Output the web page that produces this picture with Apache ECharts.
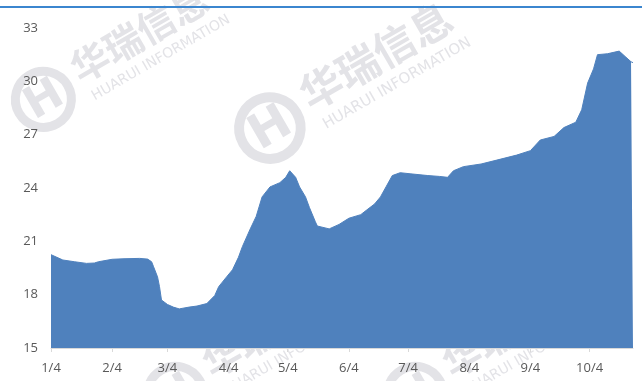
<!DOCTYPE html>
<html>
<head>
<meta charset="utf-8">
<script src="https://cdn.jsdelivr.net/npm/echarts@6/dist/echarts.min.js"></script>
<style>
  html, body { margin: 0; padding: 0; background: #ffffff; }
  #chart { width: 642px; height: 381px; }
</style>
</head>
<body>
<div id="chart"></div>
<script>
// Daily price observations (2018), sampled along the curve
const dates = [
  '2018-01-04','2018-01-07','2018-01-10','2018-01-16','2018-01-22','2018-01-26','2018-01-28',
  '2018-02-04','2018-02-10','2018-02-18','2018-02-22','2018-02-24','2018-02-25','2018-02-27','2018-02-28',
  '2018-03-01','2018-03-04','2018-03-07','2018-03-10','2018-03-15','2018-03-19','2018-03-24','2018-03-28','2018-03-30',
  '2018-04-03','2018-04-06','2018-04-09','2018-04-11','2018-04-15','2018-04-18','2018-04-21','2018-04-25','2018-04-30',
  '2018-05-03','2018-05-05','2018-05-08','2018-05-10','2018-05-13','2018-05-15','2018-05-18','2018-05-19','2018-05-25','2018-05-30',
  '2018-06-04','2018-06-10','2018-06-13','2018-06-17','2018-06-20','2018-06-23','2018-06-26','2018-06-30',
  '2018-07-05','2018-07-14','2018-07-20','2018-07-24','2018-07-27',
  '2018-08-01','2018-08-10','2018-08-18','2018-08-28',
  '2018-09-04','2018-09-09','2018-09-16','2018-09-21','2018-09-27','2018-09-30',
  '2018-10-03','2018-10-06','2018-10-08','2018-10-13','2018-10-19','2018-10-22','2018-10-25','2018-10-26'
];
const prices = [
  20.25, 20.10, 19.95, 19.85, 19.76, 19.78, 19.85,
  19.99, 20.02, 20.04, 20.00, 19.85, 19.57, 19.00, 18.45,
  17.70, 17.45, 17.30, 17.20, 17.30, 17.36, 17.50, 17.95, 18.45,
  19.00, 19.40, 20.10, 20.70, 21.70, 22.40, 23.50, 24.06, 24.30,
  24.60, 24.97, 24.60, 24.06, 23.50, 22.90, 22.10, 21.86, 21.70, 21.95,
  22.30, 22.50, 22.76, 23.10, 23.50, 24.10, 24.70, 24.86,
  24.80, 24.70, 24.65, 24.60, 24.97,
  25.20, 25.35, 25.57, 25.85,
  26.10, 26.70, 26.90, 27.40, 27.70, 28.40,
  29.90, 30.70, 31.50, 31.55, 31.70, 31.40, 31.10, 31.05
];

// Month ticks and their labels
const tickDates = ['2018-01-04','2018-02-04','2018-03-04','2018-04-04','2018-05-04',
                   '2018-06-04','2018-07-04','2018-08-04','2018-09-04','2018-10-04'];
const tickLabels = ['1/4','2/4','3/4','4/4','5/4','6/4','7/4','8/4','9/4','10/4'];

const yTicks = [15, 18, 21, 24, 27, 30, 33];

// Days since the first observation
function dayOf(s) {
  const p = s.split('-').map(Number);
  const b = dates[0].split('-').map(Number);
  return Math.round((Date.UTC(p[0], p[1] - 1, p[2]) - Date.UTC(b[0], b[1] - 1, b[2])) / 86400000);
}

const seriesData = dates.map((d, i) => [dayOf(d), prices[i]]);
const tickDays = tickDates.map(dayOf);

// Background watermark: logo ring plus company name, tilted
const wmColor = '#e3e3e7';
function watermark(x, y, scale) {
  return {
    type: 'group', x: x, y: y, rotation: Math.PI / 6, z: -10, silent: true,
    children: [
      { type: 'circle', shape: { cx: -40 * scale, cy: 20 * scale, r: 28 * scale },
        style: { fill: 'none', stroke: wmColor, lineWidth: 9 * scale } },
      { type: 'text', x: -58 * scale, y: 0,
        style: { text: 'H', fill: wmColor, font: 'bold ' + Math.round(44 * scale) + 'px "DejaVu Sans"' } },
      { type: 'text', x: 0, y: -8 * scale,
        style: { text: '华瑞信息', fill: wmColor, font: 'bold ' + Math.round(38 * scale) + 'px "Noto Sans CJK SC"' } },
      { type: 'text', x: 4 * scale, y: 36 * scale,
        style: { text: 'HUARUI INFORMATION', fill: wmColor, font: Math.round(14 * scale) + 'px "DejaVu Sans"' } }
    ]
  };
}

const chart = echarts.init(document.getElementById('chart'), null, { renderer: 'canvas' });
chart.setOption({
  animation: false,
  backgroundColor: '#ffffff',
  grid: { left: 51, right: 9, top: 28, bottom: 33 },
  graphic: [
    { type: 'rect', shape: { x: 0, y: 6, width: 642, height: 2 },
      style: { fill: '#3b86cf' }, z: 10, silent: true },
    watermark(68, 62, 1),
    watermark(297, 87, 1.1),
    watermark(200, 357, 1),
    watermark(440, 357, 1)
  ],
  xAxis: {
    type: 'value',
    min: 0,
    max: dayOf(dates[dates.length - 1]),
    splitLine: { show: false },
    axisLine: { show: true, lineStyle: { color: '#d9d9d9' } },
    axisTick: { show: true, length: 4, customValues: tickDays, lineStyle: { color: '#d9d9d9' } },
    axisLabel: {
      customValues: tickDays,
      formatter: v => tickLabels[tickDays.indexOf(v)] || '',
      color: '#595959',
      fontSize: 13,
      fontFamily: 'Open Sans',
      margin: 14
    }
  },
  yAxis: {
    type: 'value',
    min: 15,
    max: 33,
    interval: 3,
    splitLine: { show: false },
    axisLine: { show: false },
    axisTick: { show: false },
    axisLabel: {
      color: '#595959',
      fontSize: 13,
      fontFamily: 'Open Sans',
      margin: 13,
      formatter: v => yTicks.indexOf(v) >= 0 ? String(v) : ''
    }
  },
  series: [{
    type: 'line',
    data: seriesData,
    symbol: 'none',
    smooth: false,
    lineStyle: { width: 1, color: '#4f81bd' },
    areaStyle: { color: '#4f81bd', opacity: 1 },
    itemStyle: { color: '#4f81bd' }
  }]
});
</script>
</body>
</html>
